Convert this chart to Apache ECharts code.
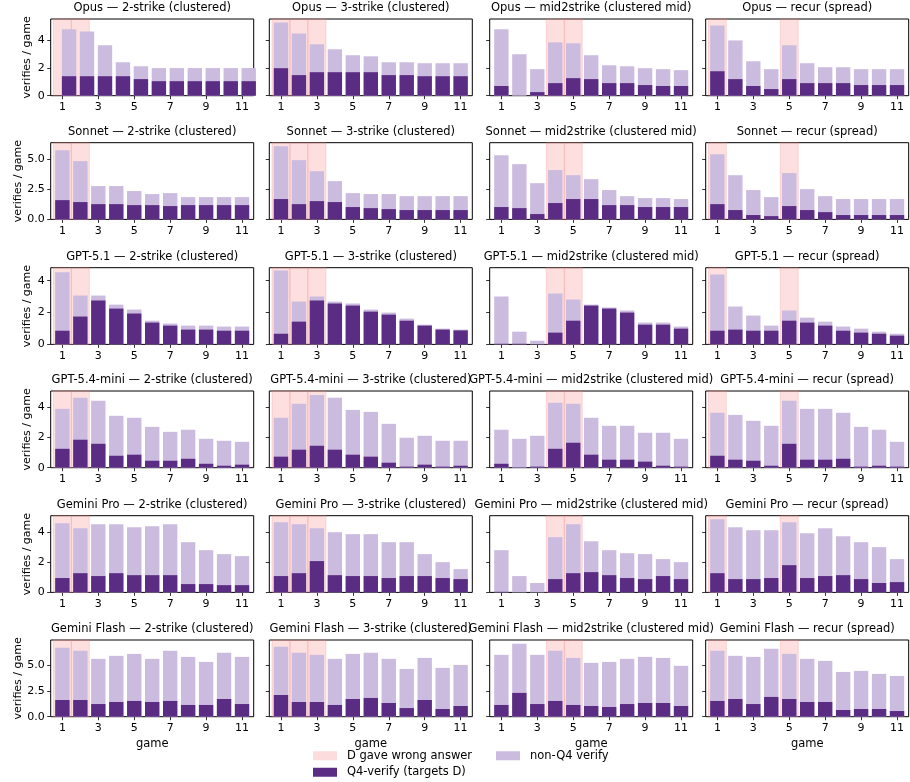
<!DOCTYPE html>
<html><head><meta charset="utf-8">
<script src="https://cdn.jsdelivr.net/npm/echarts@6/dist/echarts.min.js"></script>
<style>html,body{margin:0;padding:0;background:#fff}#c{width:910px;height:782px}</style>
</head><body><div id="c"></div>
<script>
const games = [1,2,3,4,5,6,7,8,9,10,11];
const xTickLabels = [1,3,5,7,9,11];
const models = ['Opus','Sonnet','GPT-5.1','GPT-5.4-mini','Gemini Pro','Gemini Flash'];
const conditions = ['2-strike (clustered)','3-strike (clustered)','mid2strike (clustered mid)','recur (spread)'];
const wrongGames = [[1,2],[1,2,3],[4,5],[1,5]];
const rowYTicks = [[0,2,4],[0,2.5,5],[0,2,4],[0,2,4],[0,2,4],[0,2.5,5]];
const rowYMax = [5.55,6.33,4.82,5.07,5.07,7.45];

// totals (light bar height) and Q4-verify (dark) per condition
const opusTotal = [
 [4.80,4.65,3.65,2.42,2.13,2.00,2.00,2.00,2.00,2.00,2.00],
 [5.30,4.50,3.72,3.36,2.93,2.85,2.42,2.42,2.35,2.35,2.35],
 [4.80,3.00,1.92,3.86,3.79,2.93,2.20,2.13,1.99,1.92,1.85],
 [5.08,4.00,2.49,1.92,3.65,2.35,2.06,2.06,1.92,1.92,1.92]];
const opusQ4 = [
 [1.41,1.41,1.41,1.41,1.20,1.05,1.05,1.05,1.05,1.05,1.05],
 [1.99,1.49,1.70,1.70,1.70,1.70,1.49,1.49,1.41,1.41,1.41],
 [0.70,0.00,0.26,0.91,1.27,1.20,0.91,0.91,0.77,0.70,0.70],
 [1.77,1.20,0.70,0.48,1.20,0.91,0.91,0.91,0.77,0.77,0.77]];
const sonnetTotal = [
 [5.71,4.81,2.75,2.75,2.34,2.09,2.17,1.84,1.84,1.84,1.84],
 [6.04,4.89,3.98,3.16,2.17,2.09,2.09,1.92,1.92,1.92,1.92],
 [5.30,4.56,2.99,4.07,3.65,3.32,2.42,1.92,1.76,1.76,1.68],
 [5.38,3.65,2.42,1.84,3.82,2.50,1.92,1.68,1.68,1.68,1.68]];
const sonnetQ4 = [
 [1.59,1.43,1.26,1.26,1.18,1.18,1.10,1.18,1.18,1.18,1.18],
 [1.68,1.26,1.51,1.43,1.02,0.93,0.85,0.77,0.77,0.77,0.77],
 [1.02,0.93,0.44,1.35,1.68,1.68,1.18,1.18,1.02,1.02,1.02],
 [1.26,0.77,0.36,0.27,1.10,0.77,0.60,0.36,0.36,0.36,0.36]];
const gpt51Total = [
 [4.53,3.07,3.07,2.50,2.19,1.49,1.31,1.18,1.18,1.12,1.12],
 [4.65,2.69,3.01,2.69,2.57,2.19,2.00,1.62,1.24,0.99,0.93],
 [3.01,0.80,0.23,3.20,2.82,2.50,2.32,2.13,1.37,1.37,1.12],
 [4.40,2.38,1.81,1.18,2.13,1.68,1.43,1.12,0.99,0.80,0.67]];
const gpt51Q4 = [
 [0.86,1.75,2.76,2.25,1.94,1.37,1.18,0.93,0.93,0.86,0.86],
 [0.67,1.43,2.76,2.57,2.44,2.06,1.87,1.49,1.18,0.93,0.88],
 [0.04,0.04,0.02,0.74,1.49,2.44,2.25,2.00,1.24,1.24,0.99],
 [0.86,0.93,0.86,0.86,1.49,1.37,1.18,0.86,0.74,0.67,0.55]];
const gpt54miniTotal = [
 [3.89,4.62,4.42,3.43,3.30,2.70,2.37,2.51,1.91,1.78,1.71],
 [3.30,4.22,4.81,4.62,3.82,3.69,2.90,1.98,2.11,1.78,1.78],
 [2.51,1.91,2.11,4.29,4.22,3.30,2.77,2.77,2.31,2.31,1.91],
 [3.63,3.49,3.10,2.77,4.42,3.89,3.89,3.63,2.70,2.51,1.71]];
const gpt54miniQ4 = [
 [1.25,1.85,1.58,0.79,0.86,0.46,0.46,0.59,0.26,0.13,0.20],
 [0.73,1.19,1.45,1.19,0.86,0.73,0.33,0.07,0.20,0.07,0.13],
 [0.26,0.02,0.07,1.25,1.65,0.86,0.53,0.53,0.40,0.13,0.07],
 [0.79,0.53,0.46,0.13,1.58,0.53,0.53,0.59,0.07,0.13,0.07]];
const geminiProTotal = [
 [4.57,4.24,4.51,4.51,4.31,4.37,4.51,3.32,2.79,2.53,2.40],
 [4.64,4.51,4.24,3.98,3.85,3.85,3.32,3.32,2.53,2.00,1.54],
 [2.79,1.08,0.62,3.65,4.51,3.38,2.79,2.59,2.53,2.20,2.00],
 [4.84,4.31,4.11,4.11,4.64,3.91,4.24,3.71,3.32,2.99,2.20]];
const geminiProQ4 = [
 [0.95,1.27,1.08,1.27,1.14,1.14,1.14,0.55,0.55,0.48,0.48],
 [1.08,1.27,2.07,1.14,1.08,1.08,0.95,1.08,1.08,0.95,0.88],
 [0.04,0.00,0.00,0.88,1.27,1.34,1.14,0.95,0.88,1.08,0.88],
 [1.27,0.88,0.88,0.95,1.80,0.95,1.08,1.14,0.88,0.62,0.68]];
const geminiFlashTotal = [
 [6.69,6.40,5.62,5.91,6.10,5.62,6.40,5.81,5.32,6.20,5.81],
 [6.79,6.20,6.01,5.62,6.10,6.20,5.62,4.64,5.71,4.74,5.03],
 [6.01,7.08,6.01,6.40,5.71,5.23,5.32,5.62,5.81,5.71,4.94],
 [6.40,5.91,5.81,6.59,6.10,5.62,5.42,4.35,4.45,4.16,3.96]];
const geminiFlashQ4 = [
 [1.62,1.62,1.23,1.43,1.53,1.43,1.53,1.14,1.14,1.72,1.23],
 [2.11,1.43,1.43,1.14,1.72,1.82,1.33,0.84,1.62,0.75,1.04],
 [1.14,2.31,1.23,1.53,1.14,1.04,0.94,1.23,1.33,1.33,1.04],
 [1.53,1.72,1.23,1.92,1.72,1.43,1.43,0.65,0.75,0.75,0.55]];

const totals = [opusTotal, sonnetTotal, gpt51Total, gpt54miniTotal, geminiProTotal, geminiFlashTotal];
const q4s = [opusQ4, sonnetQ4, gpt51Q4, gpt54miniQ4, geminiProQ4, geminiFlashQ4];

const DARK = '#5b2c84', LIGHT = '#cbbbdf', PINK = 'rgba(245,120,120,0.24)';
const FONT = 'DejaVu Sans';
const colLeft = [50.7, 269.3, 489.7, 705.7];
const colW = 203;
const rowTop = [19, 142.7, 267.7, 391, 515.7, 640];
const rowH = 76.7;
const XMIN = 0.35, XMAX = 11.65;
const barW = 0.8 * colW / (XMAX - XMIN);

const grids = [], xAxes = [], yAxes = [], series = [], titles = [];
let idx = 0;
for (let r = 0; r < models.length; r++) {
  const twoDec = rowYTicks[r].some(v => v % 1 !== 0);
  for (let c = 0; c < conditions.length; c++) {
    grids.push({left: colLeft[c], top: rowTop[r], width: colW, height: rowH,
      show: true, borderColor: '#000', borderWidth: 1, backgroundColor: 'transparent'});
    titles.push({text: models[r] + ' — ' + conditions[c], left: colLeft[c] + colW / 2,
      top: rowTop[r] - 16.5, textAlign: 'center', padding: 0,
      textStyle: {fontSize: 11.5, fontWeight: 'normal', color: '#000', fontFamily: FONT}});
    xAxes.push({type: 'value', gridIndex: idx, min: XMIN, max: XMAX,
      splitLine: {show: false}, axisLine: {show: false},
      axisTick: {show: true, length: 3.5, customValues: xTickLabels, lineStyle: {color: '#000', width: 0.8}},
      axisLabel: {show: true, customValues: xTickLabels, margin: 6, color: '#000', fontSize: 11, fontFamily: FONT},
      name: r === models.length - 1 ? 'game' : '', nameLocation: 'middle', nameGap: 21,
      nameTextStyle: {fontSize: 11.5, color: '#000', fontFamily: FONT}});
    yAxes.push({type: 'value', gridIndex: idx, min: 0, max: rowYMax[r],
      splitLine: {show: false}, axisLine: {show: false},
      axisTick: {show: true, length: 3.5, customValues: rowYTicks[r], lineStyle: {color: '#000', width: 0.8}},
      axisLabel: {show: c === 0, customValues: rowYTicks[r], margin: 6, color: '#000', fontSize: 11, fontFamily: FONT,
        formatter: v => twoDec ? v.toFixed(1) : String(v)},
      name: c === 0 ? 'verifies / game' : '', nameLocation: 'middle', nameGap: twoDec ? 27 : 18,
      nameTextStyle: {fontSize: 11, color: '#000', fontFamily: FONT}});
    const tot = totals[r][c], q4 = q4s[r][c];
    series.push({type: 'bar', name: 'non-Q4 verify', xAxisIndex: idx, yAxisIndex: idx,
      data: games.map((g, k) => [g, tot[k]]), barWidth: barW, barGap: '-100%',
      itemStyle: {color: LIGHT}, z: 2,
      markArea: {silent: true, z: 1, itemStyle: {color: PINK, borderColor: PINK, borderWidth: 1},
        data: wrongGames[c].map(g => [{xAxis: g - 0.5}, {xAxis: g + 0.5}])}});
    series.push({type: 'bar', name: 'Q4-verify (targets D)', xAxisIndex: idx, yAxisIndex: idx,
      data: games.map((g, k) => [g, q4[k]]), barWidth: barW, barGap: '-100%',
      itemStyle: {color: DARK}, z: 3});
    idx++;
  }
}
series.push({type: 'bar', name: 'D gave wrong answer', xAxisIndex: 0, yAxisIndex: 0, data: [],
  itemStyle: {color: '#fcdcdc'}});

const option = {
  animation: false,
  textStyle: {fontFamily: FONT},
  title: titles,
  grid: grids, xAxis: xAxes, yAxis: yAxes, series: series,
  legend: [
    {left: 313, top: 749.5, orient: 'vertical', padding: 0, itemWidth: 24, itemHeight: 9, itemGap: 4,
      selectedMode: false, icon: 'rect', data: ['D gave wrong answer', 'Q4-verify (targets D)'],
      textStyle: {fontSize: 11.5, color: '#000', fontFamily: FONT, lineHeight: 12.5, padding: [0, 0, 0, 5]}},
    {left: 496, top: 749.5, orient: 'vertical', padding: 0, itemWidth: 24, itemHeight: 9,
      selectedMode: false, icon: 'rect', data: ['non-Q4 verify'],
      textStyle: {fontSize: 11.5, color: '#000', fontFamily: FONT, lineHeight: 12.5, padding: [0, 0, 0, 5]}}
  ]
};
const chart = echarts.init(document.getElementById('c'), null, {renderer: 'canvas'});
chart.setOption(option);
</script></body></html>
